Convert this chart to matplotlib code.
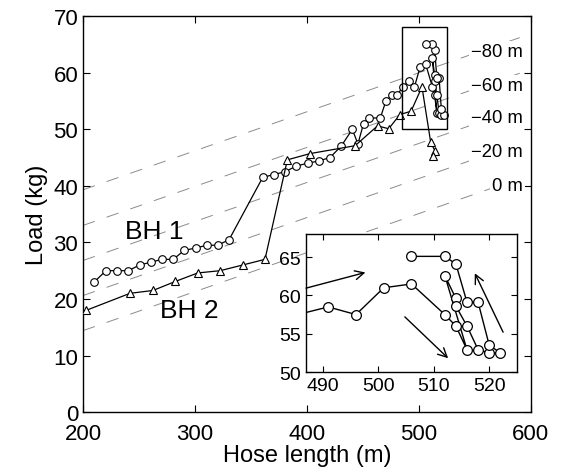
import matplotlib
matplotlib.use("Agg")
import matplotlib.pyplot as plt
from matplotlib.patches import Rectangle

plt.rcParams['font.family'] = ['Liberation Sans', 'DejaVu Sans']
plt.rcParams['lines.scale_dashes'] = False

# BH 1 (circles)
bh1_len = [210, 220.5, 230.5, 240.5, 250.5, 260.5, 270.5, 280.5, 290.5, 300.5,
           310.5, 320.5, 330.5, 360.5, 370.5, 380.5, 390.5, 400.5, 410.5, 420.5,
           430.5, 440.5, 445.5, 450.5, 455.5, 465.5, 470.5, 475.5, 480.5, 485.5,
           491, 496, 501, 506, 512, 514, 516, 512, 514, 514,
           516, 518, 520, 522, 520, 518, 516, 514, 512, 506]
bh1_load = [23, 25, 25, 25, 26, 26.5, 27, 27, 28.6, 29,
            29.5, 29.5, 30.5, 41.5, 42, 42.5, 43.5, 44, 44.4, 45,
            47, 50, 47.4, 51, 52, 52, 55, 56, 56, 57.5,
            58.5, 57.5, 61, 61.5, 57.5, 56, 52.9, 62.6, 59.6, 58.6,
            56, 52.9, 52.5, 52.5, 53.5, 59.1, 59.1, 64.1, 65.1, 65.1]

# BH 2 (triangles)
bh2_len = [203, 242, 262.5, 282.5, 302.5, 322.5, 342.5, 362.5, 382.5, 402.7,
           443, 463, 473, 483, 493, 502.7, 510.5, 514.5, 512.8]
bh2_load = [18, 21, 21.5, 23.1, 24.6, 25, 26, 27, 44.6, 45.7,
            47.1, 50.6, 50.1, 52.6, 53.2, 57.5, 47.7, 46.1, 45.2]

# depth reference lines: load = intercept + slope * (length - 200)
depth_labels = ['0 m', '\u221220 m', '\u221240 m', '\u221260 m', '\u221280 m']
depth_intercepts = [14.4, 20.6, 26.8, 33.0, 39.3]
depth_label_y = [40.0, 46.0, 52.0, 57.8, 63.8]
slope = 0.069

fig = plt.figure(figsize=(5.62, 4.77), dpi=100)
ax = fig.add_axes([0.1477, 0.134, 0.797, 0.830])

for c in depth_intercepts:
    ax.plot([200, 600], [c, c + slope * 400], color='0.55', lw=0.7,
            ls=(0, (9, 9)), zorder=1)

ax.plot(bh1_len, bh1_load, '-o', color='k', mfc='white', mec='k', ms=5.5,
        lw=0.9, mew=0.8, zorder=3)
ax.plot(bh2_len, bh2_load, '-^', color='k', mfc='white', mec='k', ms=6,
        lw=0.9, mew=0.8, zorder=3)

for lab, yy in zip(depth_labels, depth_label_y):
    ax.text(593, yy, lab, ha='right', va='center', fontsize=13.3,
            bbox=dict(facecolor='white', edgecolor='none', pad=1.5), zorder=2)

ax.text(264, 32, 'BH 1', ha='center', va='center', fontsize=19)
ax.text(295, 18, 'BH 2', ha='center', va='center', fontsize=19)

ax.add_patch(Rectangle((485, 50), 40, 18, fill=False, ec='k', lw=1, zorder=4))

ax.set_xlim(200, 600)
ax.set_ylim(0, 70)
ax.set_xticks([200, 300, 400, 500, 600])
ax.set_yticks(range(0, 71, 10))
ax.tick_params(direction='in', top=True, right=True, labelsize=16, length=5)
ax.tick_params(axis='x', pad=8)
ax.set_xlabel('Hose length (m)', fontsize=17, labelpad=0)
ax.set_ylabel('Load (kg)', fontsize=17, labelpad=4)
for s in ax.spines.values():
    s.set_linewidth(1)

# inset zoom
ins = fig.add_axes([0.5445, 0.218, 0.3754, 0.289])
ins.plot(bh1_len, bh1_load, '-o', color='k', mfc='white', mec='k', ms=7,
         lw=1, mew=0.9)
arrows = [((487, 60.95), (497.7, 63.0)),
          ((504.8, 57.2), (512.6, 51.8)),
          ((522.5, 55.2), (517.4, 62.9))]
for start, end in arrows:
    ins.annotate('', xy=end, xytext=start,
                 arrowprops=dict(arrowstyle='->', color='k', lw=1,
                                 mutation_scale=16, shrinkA=0, shrinkB=0))
ins.set_xlim(487, 525)
ins.set_ylim(50, 68)
ins.set_xticks([490, 500, 510, 520])
ins.set_yticks([50, 55, 60, 65])
ins.tick_params(direction='in', top=True, right=True, labelsize=14, length=4)
for s in ins.spines.values():
    s.set_linewidth(1)

fig.savefig('out.png', dpi=100)
